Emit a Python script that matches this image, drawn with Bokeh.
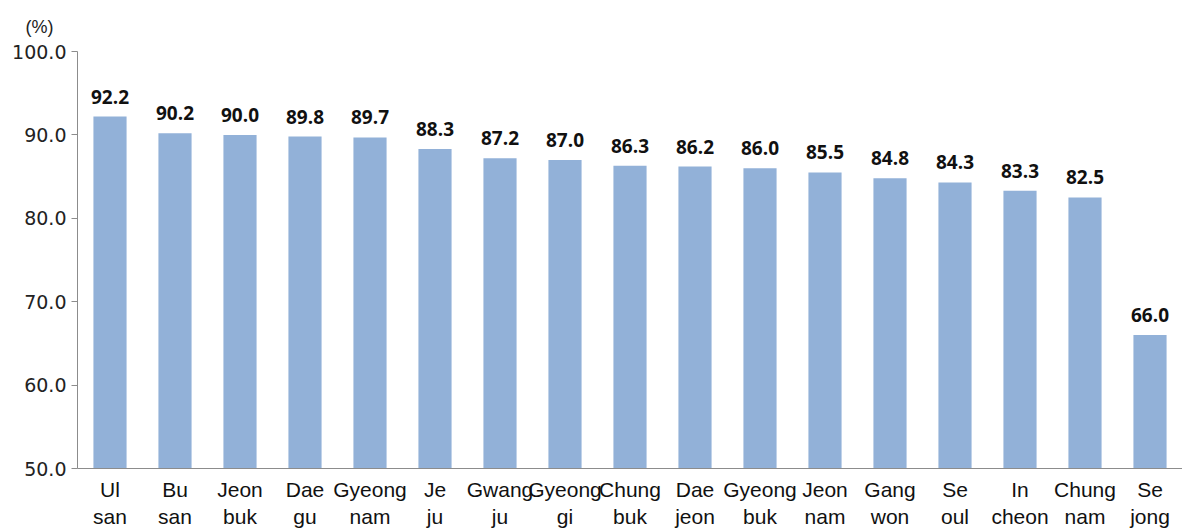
from bokeh.plotting import figure
from bokeh.models import ColumnDataSource, Range1d, FixedTicker, CustomJSTickFormatter
from bokeh.core.properties import value
from bokeh.embed import file_html
from bokeh.resources import INLINE

regions = ["Ul\nsan", "Bu\nsan", "Jeon\nbuk", "Dae\ngu", "Gyeong\nnam", "Je\nju", "Gwang\nju",
           "Gyeong\ngi", "Chung\nbuk", "Dae\njeon", "Gyeong\nbuk", "Jeon\nnam", "Gang\nwon",
           "Se\noul", "In\ncheon", "Chung\nnam", "Se\njong"]
rates = [92.2, 90.2, 90.0, 89.8, 89.7, 88.3, 87.2, 87.0, 86.3, 86.2, 86.0, 85.5, 84.8, 84.3, 83.3, 82.5, 66.0]
y_ticks = [50, 60, 70, 80, 90, 100]

src = ColumnDataSource(dict(x=regions, top=rates, lab=[f"{v:.1f}" for v in rates]))

p = figure(x_range=regions, y_range=Range1d(50, 100), width=1182, height=531,
           output_backend="svg", toolbar_location=None, title="(%)",
           min_border_left=77, min_border_right=0, min_border_top=51, min_border_bottom=60)
p.title.text_font = "Liberation Sans"
p.title.text_font_size = "18px"
p.title.text_font_style = "normal"
p.title.text_color = "#222222"
p.title.align = "left"
p.title.offset = -52
p.title.standoff = 29
p.outline_line_color = None
p.grid.grid_line_color = None
p.vbar(x="x", top="top", bottom=50, width=0.51, source=src, color="#92B1D8", line_color=None)
p.text(x="x", y="top", text="lab", source=src, text_align="center", text_baseline="bottom",
       y_offset=-13, text_font=value("Open Sans"), text_font_style="bold", text_font_size="19px",
       text_color="#111111")

p.yaxis.ticker = FixedTicker(ticks=y_ticks)
p.yaxis.formatter = CustomJSTickFormatter(code="return tick.toFixed(1);")
p.yaxis.major_label_text_font = "DejaVu Sans"
p.yaxis.major_label_text_font_size = "19px"
p.yaxis.major_label_text_color = "#222222"
p.yaxis.axis_line_color = "#8c8c8c"
p.yaxis.major_tick_line_color = "#8c8c8c"
p.yaxis.major_tick_in = 0
p.yaxis.major_tick_out = 6
p.yaxis.minor_tick_line_color = None
p.yaxis.major_label_standoff = 5

p.xaxis.axis_line_color = "#8c8c8c"
p.xaxis.major_tick_line_color = None
p.xaxis.minor_tick_line_color = None
p.xaxis.major_label_text_font = "Liberation Sans"
p.xaxis.major_label_text_font_size = "21px"
p.xaxis.major_label_text_color = "#111111"
p.xaxis.major_label_standoff = 3

open("out.html", "w").write(file_html(p, INLINE))
